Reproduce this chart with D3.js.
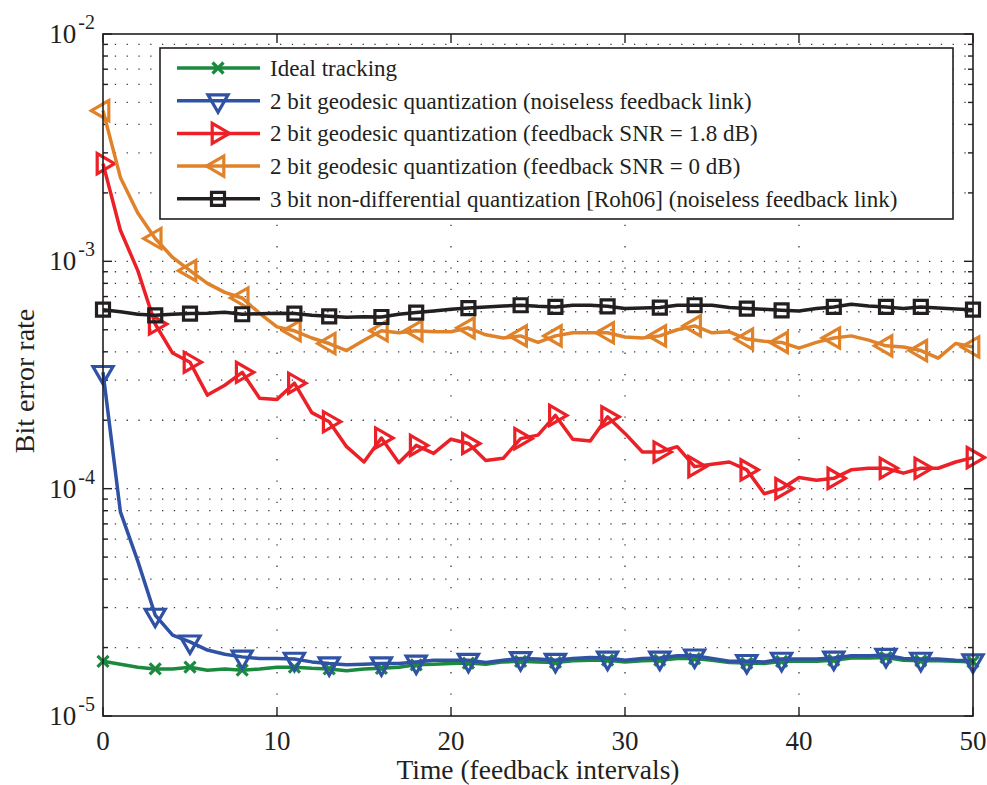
<!DOCTYPE html>
<html>
<head>
<meta charset="utf-8">
<style>
 body {
     margin: 0;
     background-color: #ffffff;
 }
 text {
     font-family: "Liberation Serif", "Times New Roman", serif;
     fill: #231f20;
 }
 .grid line {
     stroke: #3a3a3a;
     stroke-width: 1.3;
 }
 .grid--y line {
     stroke-dasharray: 1.3, 10.5;
 }
 .grid--x line {
     stroke-dasharray: 1.3, 20;
 }
 .tick-mark {
     stroke: #231f20;
     stroke-width: 1.4;
 }
 .series path.line {
     fill: none;
     stroke-width: 3.5;
     stroke-linejoin: round;
 }
 .series path.marker {
     fill: none;
     stroke-width: 3.2;
 }
</style>
<script src="https://d3js.org/d3.v7.min.js"></script>
</head>
<body>
<svg id="chart" width="987" height="785"></svg>
<script>
 // feedback interval index (x axis) and the indices that carry a marker
 var time = d3.range(0, 51);
 var markerIdx = [0, 3, 5, 8, 11, 13, 16, 18, 21, 24, 26, 29, 32, 34, 37, 39, 42, 45, 47, 50];

 // bit error rate
 var ideal = [1.74e-5, 1.69e-5, 1.64e-5, 1.61e-5, 1.61e-5, 1.64e-5, 1.59e-5, 1.61e-5, 1.59e-5, 1.61e-5,
              1.64e-5, 1.64e-5, 1.62e-5, 1.61e-5, 1.58e-5, 1.61e-5, 1.62e-5, 1.64e-5, 1.68e-5, 1.69e-5,
              1.70e-5, 1.71e-5, 1.69e-5, 1.73e-5, 1.74e-5, 1.73e-5, 1.72e-5, 1.75e-5, 1.76e-5, 1.76e-5,
              1.73e-5, 1.75e-5, 1.76e-5, 1.79e-5, 1.79e-5, 1.76e-5, 1.72e-5, 1.71e-5, 1.70e-5, 1.74e-5,
              1.74e-5, 1.74e-5, 1.76e-5, 1.80e-5, 1.80e-5, 1.81e-5, 1.76e-5, 1.75e-5, 1.75e-5, 1.74e-5,
              1.73e-5];
 var geoNoiseless = [3.25e-4, 7.9e-5, 4.8e-5, 2.78e-5, 2.27e-5, 2.12e-5, 1.95e-5, 1.87e-5, 1.82e-5, 1.79e-5,
                     1.79e-5, 1.78e-5, 1.73e-5, 1.70e-5, 1.68e-5, 1.69e-5, 1.70e-5, 1.70e-5, 1.73e-5, 1.76e-5,
                     1.76e-5, 1.76e-5, 1.72e-5, 1.76e-5, 1.79e-5, 1.78e-5, 1.76e-5, 1.79e-5, 1.81e-5, 1.80e-5,
                     1.76e-5, 1.79e-5, 1.80e-5, 1.84e-5, 1.84e-5, 1.79e-5, 1.74e-5, 1.74e-5, 1.73e-5, 1.78e-5,
                     1.78e-5, 1.78e-5, 1.80e-5, 1.84e-5, 1.84e-5, 1.85e-5, 1.79e-5, 1.78e-5, 1.78e-5, 1.76e-5,
                     1.75e-5];
 var geoSnr18 = [2.69e-3, 1.37e-3, 9.1e-4, 5.3e-4, 3.95e-4, 3.6e-4, 2.58e-4, 2.85e-4, 3.25e-4, 2.5e-4,
                 2.47e-4, 2.91e-4, 2.16e-4, 1.97e-4, 1.53e-4, 1.31e-4, 1.67e-4, 1.3e-4, 1.55e-4, 1.43e-4,
                 1.65e-4, 1.58e-4, 1.33e-4, 1.36e-4, 1.66e-4, 1.72e-4, 2.1e-4, 1.65e-4, 1.62e-4, 2.07e-4,
                 1.75e-4, 1.45e-4, 1.45e-4, 1.53e-4, 1.25e-4, 1.28e-4, 1.31e-4, 1.21e-4, 9.5e-5, 1.0e-4,
                 1.12e-4, 1.09e-4, 1.11e-4, 1.21e-4, 1.23e-4, 1.23e-4, 1.17e-4, 1.23e-4, 1.23e-4, 1.31e-4,
                 1.37e-4];
 var geoSnr0 = [4.6e-3, 2.34e-3, 1.63e-3, 1.26e-3, 1.04e-3, 9.1e-4, 8.0e-4, 7.3e-4, 6.9e-4, 5.9e-4,
                5.15e-4, 4.95e-4, 4.6e-4, 4.35e-4, 4.05e-4, 4.5e-4, 4.95e-4, 4.85e-4, 4.95e-4, 4.9e-4,
                4.9e-4, 5.1e-4, 4.75e-4, 4.6e-4, 4.7e-4, 4.4e-4, 4.7e-4, 4.85e-4, 4.85e-4, 4.85e-4,
                4.65e-4, 4.6e-4, 4.7e-4, 5.0e-4, 5.2e-4, 4.85e-4, 4.9e-4, 4.55e-4, 4.45e-4, 4.4e-4,
                4.15e-4, 4.4e-4, 4.6e-4, 4.7e-4, 4.5e-4, 4.25e-4, 4.2e-4, 4.05e-4, 3.75e-4, 4.35e-4,
                4.2e-4];
 var roh06 = [6.13e-4, 6.0e-4, 5.85e-4, 5.79e-4, 5.85e-4, 5.89e-4, 5.91e-4, 5.97e-4, 5.85e-4, 5.88e-4,
              5.91e-4, 5.89e-4, 5.79e-4, 5.73e-4, 5.67e-4, 5.7e-4, 5.69e-4, 5.85e-4, 5.95e-4, 6.05e-4,
              6.15e-4, 6.23e-4, 6.3e-4, 6.36e-4, 6.41e-4, 6.34e-4, 6.3e-4, 6.41e-4, 6.41e-4, 6.34e-4,
              6.2e-4, 6.23e-4, 6.26e-4, 6.41e-4, 6.41e-4, 6.41e-4, 6.26e-4, 6.2e-4, 6.15e-4, 6.09e-4,
              6.05e-4, 6.2e-4, 6.3e-4, 6.47e-4, 6.36e-4, 6.3e-4, 6.2e-4, 6.3e-4, 6.23e-4, 6.17e-4,
              6.13e-4];

 var seriesNames = ["Ideal tracking",
                    "2 bit geodesic quantization (noiseless feedback link)",
                    "2 bit geodesic quantization (feedback SNR = 1.8 dB)",
                    "2 bit geodesic quantization (feedback SNR = 0 dB)",
                    "3 bit non-differential quantization [Roh06] (noiseless feedback link)"];
 var xTicks = [0, 10, 20, 30, 40, 50];
 var yDecades = [-5, -4, -3, -2];

 var series = [
     {name: seriesNames[0], values: ideal, color: "#1b8a3e", shape: "x"},
     {name: seriesNames[1], values: geoNoiseless, color: "#2f52a4", shape: "down"},
     {name: seriesNames[2], values: geoSnr18, color: "#ec2027", shape: "right"},
     {name: seriesNames[3], values: geoSnr0, color: "#e0822a", shape: "left"},
     {name: seriesNames[4], values: roh06, color: "#231f20", shape: "square"}
 ];

 var svg = d3.select("svg"),
     margin = {top: 34, right: 14, bottom: 69, left: 103},
     width = +svg.attr("width") - margin.left - margin.right,
     height = +svg.attr("height") - margin.top - margin.bottom;

 var x = d3.scaleLinear().domain([0, 50]).range([0, width]),
     y = d3.scaleLog().domain([1e-5, 1e-2]).range([height, 0]);

 var g = svg.append("g")
            .attr("transform", "translate(" + margin.left + "," + margin.top + ")");

 // every 1..9 x 10^e value inside the axis range
 var yMinor = [];
 yDecades.slice(0, -1).forEach(function(e) {
     for (var k = 1; k <= 9; k++) yMinor.push(k * Math.pow(10, e));
 });
 yMinor.push(1e-2);
 var yMajor = yDecades.map(function(e) { return Math.pow(10, e); });

 // dotted grid
 g.append("g").attr("class", "grid grid--y")
  .selectAll("line")
  .data(yMinor.filter(function(v) { return v > 1e-5 && v < 1e-2; }))
  .enter().append("line")
  .attr("x1", 0).attr("x2", width)
  .attr("y1", function(d) { return y(d); })
  .attr("y2", function(d) { return y(d); });

 g.append("g").attr("class", "grid grid--x")
  .selectAll("line")
  .data(xTicks.slice(1, -1))
  .enter().append("line")
  .attr("x1", function(d) { return x(d); })
  .attr("x2", function(d) { return x(d); })
  .attr("y1", height).attr("y2", 0);

 // tick marks pointing inward on all four sides
 var ticks = g.append("g");
 yMinor.forEach(function(v) {
     var len = yMajor.indexOf(v) >= 0 ? 9 : 5;
     ticks.append("line").attr("class", "tick-mark")
          .attr("x1", 0).attr("x2", len).attr("y1", y(v)).attr("y2", y(v));
     ticks.append("line").attr("class", "tick-mark")
          .attr("x1", width).attr("x2", width - len).attr("y1", y(v)).attr("y2", y(v));
 });
 xTicks.forEach(function(v) {
     ticks.append("line").attr("class", "tick-mark")
          .attr("x1", x(v)).attr("x2", x(v)).attr("y1", height).attr("y2", height - 9);
     ticks.append("line").attr("class", "tick-mark")
          .attr("x1", x(v)).attr("x2", x(v)).attr("y1", 0).attr("y2", 9);
 });

 // tick labels
 g.append("g").selectAll("text")
  .data(xTicks)
  .enter().append("text")
  .attr("x", function(d) { return x(d); })
  .attr("y", height + 34)
  .attr("text-anchor", "middle")
  .attr("font-size", 27)
  .text(function(d) { return d; });

 var yLabels = g.append("g").selectAll("text")
                .data(yDecades)
                .enter().append("text")
                .attr("x", -8)
                .attr("y", function(d) { return y(Math.pow(10, d)) + 9; })
                .attr("text-anchor", "end")
                .attr("font-size", 27);
 yLabels.append("tspan").text("10");
 yLabels.append("tspan")
        .attr("font-size", 20)
        .attr("dy", -14)
        .attr("dx", 2)
        .text(function(d) { return d; });

 // series: line through every point, markers on the subset
 var line = d3.line()
              .x(function(d, i) { return x(time[i]); })
              .y(function(d) { return y(d); });

 function markerPath(shape) {
     if (shape === "x") return "M-5.5,-5.5L5.5,5.5M5.5,-5.5L-5.5,5.5";
     if (shape === "square") return "M-6.5,-6.5H6.5V6.5H-6.5Z";
     return d3.symbol().type(d3.symbolTriangle).size(175)();
 }
 var rotation = {down: 180, right: 90, left: -90, x: 0, square: 0};

 series.forEach(function(s) {
     var sg = g.append("g").attr("class", "series");
     sg.append("path")
       .attr("class", "line")
       .attr("stroke", s.color)
       .attr("d", line(s.values));
     sg.selectAll("path.marker")
       .data(markerIdx)
       .enter().append("path")
       .attr("class", "marker")
       .attr("stroke", s.color)
       .attr("transform", function(i) {
           return "translate(" + x(time[i]) + "," + y(s.values[i]) + ") rotate(" + rotation[s.shape] + ")";
       })
       .attr("d", markerPath(s.shape));
 });

 // axes box
 g.append("rect")
  .attr("width", width).attr("height", height)
  .attr("fill", "none")
  .attr("stroke", "#231f20")
  .attr("stroke-width", 1.6);

 // legend
 var legend = svg.append("g").attr("transform", "translate(160,48)");
 legend.append("rect")
       .attr("width", 793).attr("height", 171)
       .attr("fill", "#ffffff")
       .attr("stroke", "#231f20")
       .attr("stroke-width", 1.6);
 var rows = legend.selectAll("g.row")
                  .data(series)
                  .enter().append("g")
                  .attr("class", "row series")
                  .attr("transform", function(d, i) { return "translate(0," + (20 + i * 32.7) + ")"; });
 rows.append("path").attr("class", "line")
     .attr("stroke", function(d) { return d.color; })
     .attr("d", "M17,0H100");
 rows.append("path").attr("class", "marker")
     .attr("stroke", function(d) { return d.color; })
     .attr("transform", function(d) { return "translate(58,0) rotate(" + rotation[d.shape] + ")"; })
     .attr("d", function(d) { return markerPath(d.shape); });
 rows.append("text")
     .attr("x", 110)
     .attr("y", 8)
     .attr("font-size", 23)
     .text(function(d) { return d.name; });

 // axis titles
 svg.append("text")
    .attr("x", margin.left + width / 2)
    .attr("y", 779)
    .attr("text-anchor", "middle")
    .attr("font-size", 27.5)
    .text("Time (feedback intervals)");
 svg.append("text")
    .attr("transform", "translate(34," + (margin.top + height / 2 + 6) + ") rotate(-90)")
    .attr("text-anchor", "middle")
    .attr("font-size", 28)
    .text("Bit error rate");
</script>
</body>
</html>
